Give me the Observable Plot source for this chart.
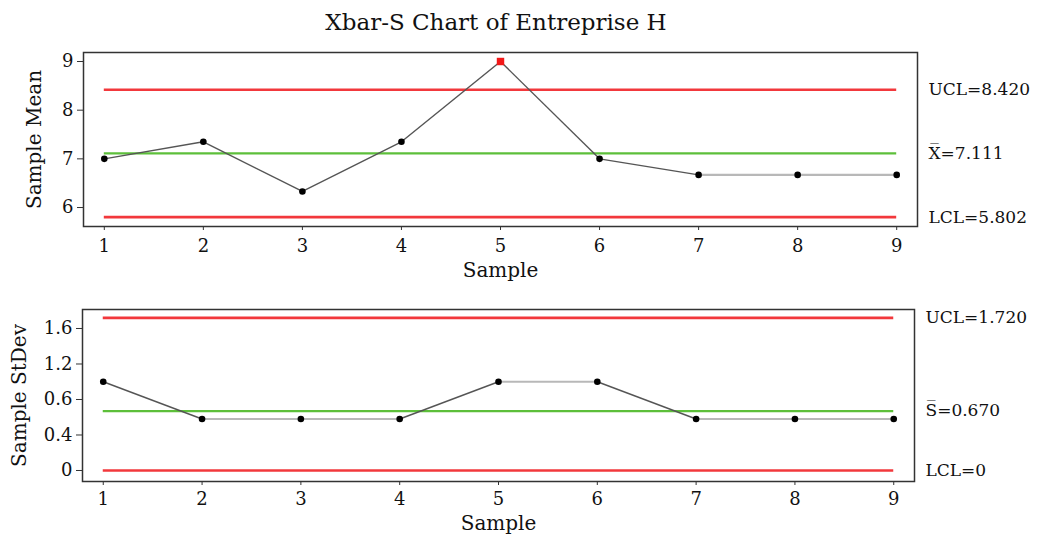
<!DOCTYPE html>
<html>
<head>
<meta charset="utf-8">
<script src="https://cdn.jsdelivr.net/npm/d3@7"></script>
<script src="https://cdn.jsdelivr.net/npm/@observablehq/plot@0.6"></script>
<style>
  body { margin: 0; background: #fff; }
  #wrap { position: relative; width: 1043px; height: 542px; overflow: hidden; background: #fff; }
  #title { position: absolute; left: 0; top: 7px; width: 992px; text-align: center;
           font-family: "DejaVu Serif", serif; font-size: 23px; color: #111; line-height: 30px; }
  .panel { position: absolute; left: 0; }
  .panel svg { overflow: visible; }
</style>
</head>
<body>
<div id="wrap">
  <div id="title">Xbar-S Chart of Entreprise H</div>
  <div id="top" class="panel" style="top:30px"></div>
  <div id="bot" class="panel" style="top:290px"></div>
</div>
<script>
const samples = [1, 2, 3, 4, 5, 6, 7, 8, 9];
const sampleMeans = [7.0, 7.35, 6.33, 7.35, 9.0, 7.0, 6.67, 6.67, 6.67];
const sampleStdevs = [1.0, 0.58, 0.58, 0.58, 1.0, 1.0, 0.58, 0.58, 0.58];
const meanOutOfControl = [5];

const meanLimits = [
  {name: "UCL", value: 8.420, label: "UCL=8.420", kind: "limit"},
  {name: "CL", value: 7.111, label: "X\u0305=7.111", kind: "center"},
  {name: "LCL", value: 5.802, label: "LCL=5.802", kind: "limit"}
];
const sdLimits = [
  {name: "UCL", value: 1.720, label: "UCL=1.720", kind: "limit"},
  {name: "CL", value: 0.670, label: "S\u0305=0.670", kind: "center"},
  {name: "LCL", value: 0, label: "LCL=0", kind: "limit"}
];

const meanTicks = [6, 7, 8, 9];
const meanTickLabels = ["6", "7", "8", "9"];
const sdTicks = [0, 0.4, 0.8, 1.2, 1.6];
const sdTickLabels = ["0", "0.4", "0.6", "1.2", "1.6"];

const RED = "#f2383c", GREEN = "#5dbf3a", LINE = "#555", FLAT = "#b8b8b8";
const FONT = {fontFamily: "DejaVu Serif", fontSize: "18px", color: "#111", background: "transparent"};

function segments(vals) {
  const out = [];
  for (let i = 1; i < vals.length; i++) {
    out.push({x1: samples[i - 1], y1: vals[i - 1], x2: samples[i], y2: vals[i]});
  }
  return out;
}

function panel({vals, limits, ticks, tickLabels, ylabel, yDomain, margins, height, ooc, ylabelDx, xlabelDy, xPad}) {
  const pts = samples.map((s, i) => ({s, v: vals[i], bad: ooc.includes(s)}));
  const segs = segments(vals);
  return Plot.plot({
    width: 1043,
    height,
    ...margins,
    style: FONT,
    x: {domain: [0.79, 9.21]},
    y: {domain: yDomain},
    marks: [
      Plot.ruleY(limits, {y: "value", x1: 1, x2: 9,
        stroke: d => d.kind === "limit" ? RED : GREEN,
        strokeWidth: d => d.kind === "limit" ? 2.6 : 2.2}),
      Plot.link(segs, {x1: "x1", y1: "y1", x2: "x2", y2: "y2",
        stroke: d => d.y1 === d.y2 ? FLAT : LINE,
        strokeWidth: d => d.y1 === d.y2 ? 2.2 : 1.4}),
      Plot.dot(pts.filter(d => !d.bad), {x: "s", y: "v", r: 3.3, fill: "#000"}),
      Plot.dot(pts.filter(d => d.bad), {x: "s", y: "v", r: 4.2, symbol: "square", fill: "#f21818"}),
      Plot.frame({stroke: "#333", strokeWidth: 1.5}),
      Plot.axisX({ticks: samples, tickSize: 4, tickPadding: xPad, label: null, stroke: "#333"}),
      Plot.axisY({ticks, tickFormat: (d) => tickLabels[ticks.indexOf(d)], tickSize: 6, tickPadding: 4, label: null, stroke: "#333"}),
      Plot.text(limits, {y: "value", text: "label", frameAnchor: "right", dx: 11, textAnchor: "start", fill: "#111", fontSize: 17}),
      Plot.text([ylabel], {text: d => d, frameAnchor: "left", dx: ylabelDx, rotate: -90, textAnchor: "middle", lineAnchor: "middle", fill: "#111", fontSize: 20}),
      Plot.text(["Sample"], {text: d => d, frameAnchor: "bottom", dy: xlabelDy, textAnchor: "middle", lineAnchor: "middle", fill: "#111", fontSize: 20})
    ]
  });
}

document.getElementById("top").append(panel({
  vals: sampleMeans, limits: meanLimits, ticks: meanTicks, tickLabels: meanTickLabels,
  ylabel: "Sample Mean", yDomain: [5.61, 9.185],
  margins: {marginTop: 22, marginBottom: 64, marginLeft: 83, marginRight: 126},
  height: 260, ooc: meanOutOfControl, ylabelDx: -49, xlabelDy: 44, xPad: 9
}));

document.getElementById("bot").append(panel({
  vals: sampleStdevs, limits: sdLimits, ticks: sdTicks, tickLabels: sdTickLabels,
  ylabel: "Sample StDev", yDomain: [-0.124, 1.814],
  margins: {marginTop: 19, marginBottom: 61, marginLeft: 82, marginRight: 129},
  height: 252, ooc: [], ylabelDx: -63, xlabelDy: 42, xPad: 7
}));
</script>
</body>
</html>
